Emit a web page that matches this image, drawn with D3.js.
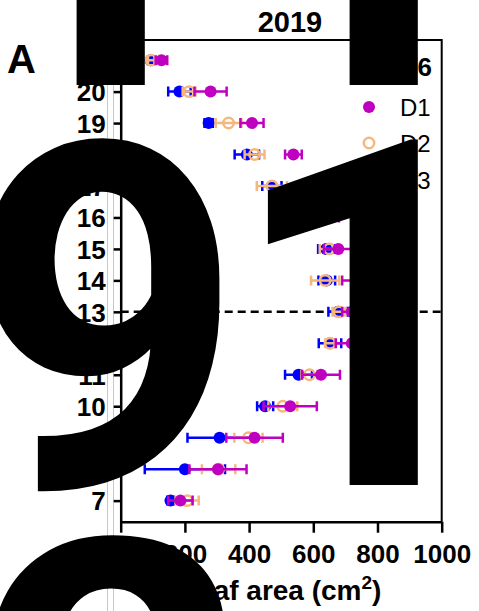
<!DOCTYPE html>
<html>
<head>
<meta charset="utf-8">
<script src="https://cdn.jsdelivr.net/npm/d3@7"></script>
<style>
  body { margin: 0; background: #fff; }
  svg { display: block; font-family: "Liberation Sans", Arial, sans-serif; }
</style>
</head>
<body>
<div id="chart-area"></div>
<script>
// Leaf positions (y) and mean leaf area +/- error for the three dates
var positions = [7, 8, 9, 10, 11, 12, 13, 14, 15, 16, 17, 18, 19, 20, 21];
var d1Mean = [186, 303, 417, 528, 624, 720, 720, 740, 678, 650, 580, 538, 409, 280, 127];
var d1Err  = [38, 89, 88, 83, 59, 50, 30, 50, 45, 30, 34, 26, 36, 50, 18];
var d2Mean = [207, 305, 398, 505, 588, 652, 680, 637, 650, 540, 471, 417, 336, 213, 95];
var d2Err  = [36, 52, 44, 45, 25, 15, 20, 44, 30, 30, 47, 31, 40, 20, 10];
var d3Mean = [155, 200, 308, 450, 554, 652, 677, 642, 640, 518, 471, 393, 274, 183, 93];
var d3Err  = [10, 125, 100, 25, 42, 35, 30, 26, 25, 15, 30, 38, 13, 35, 8];
var xTicks = [0, 200, 400, 600, 800, 1000];
var yTicks = [7, 8, 9, 10, 11, 12, 13, 14, 15, 16, 17, 18, 19, 20, 21];
var seriesNames = ["D1", "D2", "D3"];
var refLine = 13;

var W = 479, H = 611;
var plot = { left: 120.7, right: 441.7, top: 40, bottom: 521.7 };

var svg = d3.select("#chart-area").append("svg")
    .attr("width", W)
    .attr("height", H);

// faint guide lines at the left edge
[107.5, 113.5].forEach(function(gx) {
    svg.append("line")
        .attr("x1", gx).attr("x2", gx)
        .attr("y1", 0).attr("y2", H)
        .attr("stroke", "#c8c8c8")
        .attr("stroke-width", 1);
});

var x = d3.scaleLinear().domain([0, 1000]).range([plot.left, plot.right]);
var y = d3.scaleLinear().domain([6.33, 21.64]).range([plot.bottom, plot.top]);

// frame top / right
svg.append("path")
    .attr("d", "M" + plot.left + "," + plot.top + "H" + plot.right + "V" + plot.bottom)
    .attr("fill", "none")
    .attr("stroke", "#000")
    .attr("stroke-width", 2);

// Axes
var xAxis = svg.append("g")
    .attr("transform", "translate(0," + plot.bottom + ")")
    .call(d3.axisBottom(x).tickValues(xTicks).tickFormat(d3.format("d"))
        .tickSize(11).tickSizeOuter(0).tickPadding(12));
var yAxis = svg.append("g")
    .attr("transform", "translate(" + plot.left + ",0)")
    .call(d3.axisLeft(y).tickValues(yTicks).tickSize(7).tickSizeOuter(0).tickPadding(8));

[xAxis, yAxis].forEach(function(a) {
    a.select(".domain").attr("stroke-width", 2.5);
    a.selectAll(".tick line").attr("stroke-width", 2.5);
    a.selectAll(".tick text")
        .attr("font-size", "26px")
        .attr("font-weight", "bold")
        .attr("font-family", "Liberation Sans, Arial, sans-serif")
        .attr("fill", "#000");
});
yAxis.selectAll(".tick text").attr("dy", "0.36em");

// reference dashed line
svg.append("line")
    .attr("x1", plot.left).attr("x2", plot.right)
    .attr("y1", y(refLine)).attr("y2", y(refLine))
    .attr("stroke", "#000")
    .attr("stroke-width", 2.5)
    .attr("stroke-dasharray", "8,5");

// Labels
svg.append("text")
    .attr("x", 290).attr("y", 32)
    .attr("text-anchor", "middle")
    .attr("font-size", "29px").attr("font-weight", "bold")
    .text("2019");

svg.append("text")
    .attr("x", 7).attr("y", 73)
    .attr("font-size", "40px").attr("font-weight", "bold")
    .text("A");

var xl = svg.append("text")
    .attr("x", (plot.left + plot.right) / 2).attr("y", 600)
    .attr("text-anchor", "middle")
    .attr("font-size", "28px").attr("font-weight", "bold")
    .text("Leaf area (cm");
xl.append("tspan").attr("dy", -11).attr("font-size", "19px").text("2");
xl.append("tspan").attr("dy", 11).text(")");

svg.append("text")
    .attr("transform", "translate(51," + ((plot.top + plot.bottom) / 2) + ") rotate(-90)")
    .attr("text-anchor", "middle")
    .attr("font-size", "26px").attr("font-weight", "bold")
    .text("Leaf position");

// Series: drawn D3, D2, D1 so D1 is on top
var series = [
    { name: "D3", mean: d3Mean, err: d3Err, color: "#0000ff", open: false },
    { name: "D2", mean: d2Mean, err: d2Err, color: "#f5b77d", open: true },
    { name: "D1", mean: d1Mean, err: d1Err, color: "#c000c0", open: false }
];

series.forEach(function(s) {
    var data = positions.map(function(p, i) {
        return { pos: p, m: s.mean[i], e: s.err[i] };
    });
    var g = svg.append("g");
    var cap = 5;
    g.selectAll(".bar").data(data).enter().append("path")
        .attr("d", function(d) {
            var yy = y(d.pos), x0 = x(d.m - d.e), x1 = x(d.m + d.e);
            return "M" + x0 + "," + yy + "H" + x1 +
                "M" + x0 + "," + (yy - cap) + "V" + (yy + cap) +
                "M" + x1 + "," + (yy - cap) + "V" + (yy + cap);
        })
        .attr("fill", "none")
        .attr("stroke", s.color)
        .attr("stroke-width", 2.5);
    g.selectAll(".pt").data(data).enter().append("circle")
        .attr("cx", function(d) { return x(d.m); })
        .attr("cy", function(d) { return y(d.pos); })
        .attr("r", s.open ? 5.2 : 6)
        .attr("fill", s.open ? "none" : s.color)
        .attr("stroke", s.open ? s.color : "none")
        .attr("stroke-width", 2.5);
});

// Legend
svg.append("text")
    .attr("x", 432).attr("y", 76)
    .attr("text-anchor", "end")
    .attr("font-size", "26px").attr("font-weight", "bold")
    .text("V6");
var legY = [107, 143, 180];
var legColors = ["#c000c0", "#f5b77d", "#0000ff"];
seriesNames.forEach(function(n, i) {
    svg.append("circle")
        .attr("cx", 369).attr("cy", legY[i])
        .attr("r", i === 1 ? 5.2 : 6)
        .attr("fill", i === 1 ? "none" : legColors[i])
        .attr("stroke", i === 1 ? legColors[i] : "none")
        .attr("stroke-width", 2.5);
    svg.append("text")
        .attr("x", 400).attr("y", legY[i] + 9)
        .attr("font-size", "24px")
        .text(n);
});

// big black digits overlaid on the figure
var bigGlyphs = ["1", "1", "9", "1", "2"];
var bigX = [-45, 228, -34, 228, -24];
var bigY = [85, 85, 488, 485, 885];
bigGlyphs.forEach(function(t, i) {
    svg.append("text")
        .attr("x", bigX[i]).attr("y", bigY[i])
        .attr("font-family", "Roboto")
        .attr("font-size", "485px").attr("font-weight", "bold")
        .attr("fill", "#000")
        .text(t);
});
</script>
</body>
</html>
